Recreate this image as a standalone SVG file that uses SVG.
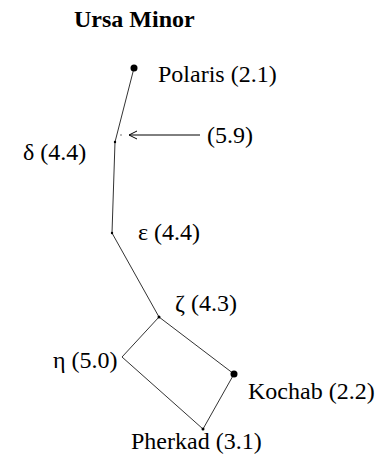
<svg xmlns="http://www.w3.org/2000/svg" width="378" height="457" viewBox="0 0 378 457">
<style>
text{font-family:"Liberation Serif","DejaVu Serif","Times New Roman",serif;font-size:24px;fill:#000}
.title{font-weight:bold;font-size:24px}
.ln{stroke:#333;stroke-width:1;fill:none}
.dot{fill:#000}
</style>
<defs>
<marker id="arr" viewBox="0 0 10 10" refX="9" refY="5" markerWidth="10" markerHeight="10" markerUnits="userSpaceOnUse" orient="auto">
<path d="M1,1 L9,5 L1,9" fill="none" stroke="#000" stroke-width="1"/>
</marker>
</defs>
<rect width="378" height="457" fill="#fff"/>
<text class="title" x="74" y="27" font-family="Liberation Serif, serif">Ursa Minor</text>
<g id="connectors">
<polyline class="ln" points="134,68 115,142 112,233 159,317 234,374 203,429 122,357 159,317"/>
<line x1="200" y1="135" x2="129" y2="135" stroke="#000" stroke-width="1" marker-end="url(#arr)"/>
</g>
<g id="polaris"><circle class="dot" cx="134" cy="68" r="3.5"/><text x="158" y="82" font-family="Liberation Serif, serif">Polaris (2.1)</text></g>
<g id="star59"><circle class="dot" cx="121" cy="135" r="0.8" fill-opacity="0.6"/><text x="207" y="143" font-family="Liberation Serif, serif">(5.9)</text></g>
<g id="delta"><circle class="dot" cx="115" cy="142" r="1.2"/><text x="23" y="160" font-family="Liberation Serif, serif">δ (4.4)</text></g>
<g id="epsilon"><circle class="dot" cx="112" cy="233" r="1.2"/><text x="138" y="240" font-family="Liberation Serif, serif">ε (4.4)</text></g>
<g id="zeta"><circle class="dot" cx="159" cy="317" r="1.5"/><text x="175" y="311" font-family="Liberation Serif, serif">ζ (4.3)</text></g>
<g id="eta"><text x="53" y="368" font-family="Liberation Serif, serif">η (5.0)</text></g>
<g id="kochab"><circle class="dot" cx="234" cy="374" r="3.5"/><text x="248" y="399" font-family="Liberation Serif, serif">Kochab (2.2)</text></g>
<g id="pherkad"><circle class="dot" cx="203" cy="429" r="1.5"/><text x="131" y="449" font-family="Liberation Serif, serif">Pherkad (3.1)</text></g>
</svg>
